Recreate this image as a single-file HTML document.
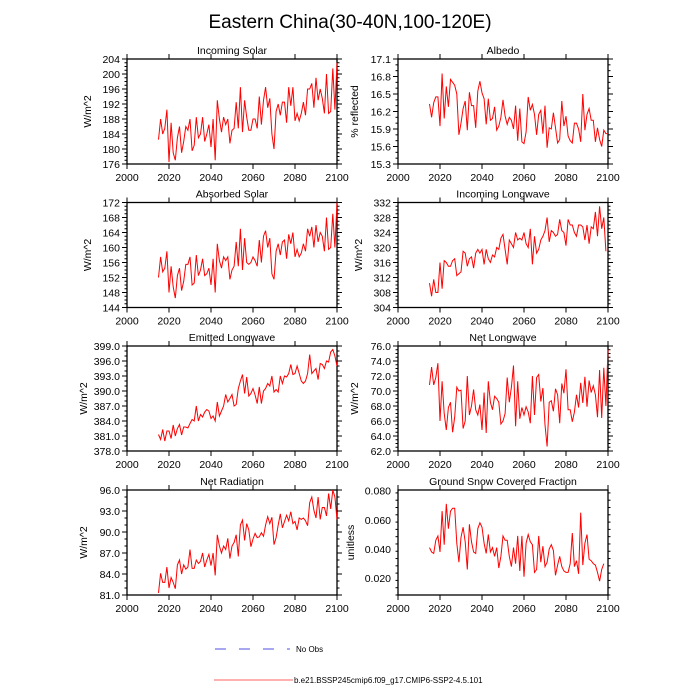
<!DOCTYPE html>
<html><head><meta charset="utf-8"><style>
body{margin:0;background:#fff;}
svg{display:block;font-family:"Liberation Sans",sans-serif;}
</style></head><body>
<svg id="c" width="700" height="700" viewBox="0 0 700 700">
<text x="350" y="28" font-size="19" text-anchor="middle">Eastern China(30-40N,100-120E)</text>
<g>
<line x1="215" y1="649" x2="290" y2="649" stroke="#5050e0" stroke-width="1" stroke-dasharray="11,13"/>
<text x="296" y="652" font-size="8">No Obs</text>
<line x1="214" y1="680" x2="293" y2="680" stroke="#ff6060" stroke-width="1"/>
<text x="294" y="683" font-size="8">b.e21.BSSP245cmip6.f09_g17.CMIP6-SSP2-4.5.101</text>
</g>
</svg>
<script>
const startYear = 2015;
const xTicks = [2000,2020,2040,2060,2080,2100];
const incomingSolar = [182.5,188,184,185.5,190.5,176.5,187,179,177,183,186,179,182,186,185,188,179.5,181,188.5,183,184,188.5,182,184,186.5,180.5,188,177,193,188,184.5,188.5,186.5,188,181.5,185,185.5,192.5,185.5,196.5,184.5,193,188.5,185,185,188,188,185.5,194,186.5,193,196.5,191,193.5,184,180,190,192,189,192.5,192.5,187,196.5,191.5,196.5,187.5,189.5,187.5,189.5,192.5,189,196,196,197.5,191,199,193,196,193.5,189.5,200,189.5,190,201.5,190.5,203];
const albedo = [16.33,16.1,16.35,16.45,16.45,15.95,16.85,16.08,16.63,16.28,16.75,16.7,16.65,16.5,15.8,16.0,16.25,16.38,15.88,16.53,16.3,16.3,15.92,16.55,16.72,16.52,16.42,15.98,16.42,16.05,16.08,16.28,15.88,15.95,16.1,16.4,16.12,15.98,16.1,16.05,15.9,16.3,15.7,16.25,15.68,15.65,15.85,16.45,16.22,16.32,16.15,15.8,16.15,16.22,15.82,16.3,15.58,15.92,15.9,16.18,15.92,15.66,15.72,16.38,15.95,16.12,15.78,15.7,15.66,16.0,16.0,15.9,15.68,16.5,15.88,16.15,16.25,16.05,16.05,15.68,15.92,15.72,15.6,15.88,15.82,15.82];
const absorbedSolar = [152,157.5,153.5,154.5,159,148,155,149.5,146.5,152.5,154.5,148.5,151,155.5,155.5,157.5,150,150.5,158,152.5,154,157,152.5,153,154.5,150,157,148,161,156.5,154.5,157.5,156.5,157.5,151.5,154,155,161.5,155,165,154,162.5,156,155.5,156,157.5,156.5,155,162,156,163,164.5,160,162.5,153,151.5,159,161,158,161.5,162,157,163.5,161,164,157.5,159.5,157.5,158.5,161,159,165,163,165.5,160,166,161.5,164,163,159,168,159.5,160,169,160,172];
const incomingLongwave = [310.5,307,311.5,308,308,316,309,316.5,316,315,315,316.5,317,312.5,313,313.5,319,318.5,315,317,317.5,314.5,318.5,319.5,318.5,319.5,315.5,319.5,317,316,318,317.5,320,319.5,322.5,323.5,319.5,315.5,322,321,320,324,322,322.5,322,324,321,320,325,315.5,323,318.5,319.5,322,323,324.5,328,321.5,324.5,324,323,323.5,327.5,324.5,324,320.5,327.5,326,326,324,323,326,326,325.5,322,326,321,325.5,325,329.5,323,331,325,328,319];
const emittedLongwave = [381.3,380.3,382.3,380,382,382,380.5,383.2,381,382.5,383.3,381.2,382.8,382.8,382.6,383.5,384.3,384,387,384,385.3,384.8,385.8,386.3,386,384.5,385,384,387.8,385,386,387,389.3,387.8,388.5,389.3,387,387.3,390.5,392,393.3,389.5,392.8,389,389.5,390.5,389.2,387.5,390.8,387.5,390,390.5,391.5,391,393,389.8,390.3,389.8,393,391.5,393,392.8,393.5,395.3,393.3,393.5,395,393.5,392,391.5,392,393.5,397.3,393.5,394,394.5,392.3,395.5,395.3,394.5,396,395.8,397.8,398.3,397,395];
const netLongwave = [70.8,73.2,70.8,71.8,73.7,66,71.3,67,64.8,67.8,68.5,64.5,66.5,70.5,70,70.1,65,66,72,66.8,68,70.2,67.5,66.8,68.2,64.8,69.8,64.4,71.3,68.5,67.5,69.3,69,68.5,65.6,66,67,71.8,68.5,70.5,73.4,65.3,71.3,66.3,67.8,66.8,67.9,67.2,65.7,72,66.8,71.8,72.2,68.6,70.4,65.5,62.6,68.5,68.7,67.3,70.3,69.5,65.7,71,69.7,72.9,67.5,67.5,65.9,67.2,69.5,67.8,71.1,68.4,71.9,67.9,71.4,69.8,70.7,69.5,66.5,72.8,66.4,73.1,68,75.5];
const netRadiation = [81.3,84.1,82.8,82.8,85,82,83.5,82.8,81.9,85.3,86,84,85.3,84.7,85,87.5,84.8,84.8,86,85.5,85.8,87,85,86,86.8,85.2,87,83.8,89.6,88,87,88,87.5,89.1,86.2,88,88.5,89.6,86.5,91,91.7,88.8,91.2,90.3,87.9,89,89.8,89.2,89.3,89.9,89.4,91,92.2,91.2,92.1,88.2,89.2,91,92.6,90.6,91.5,92.4,91.6,92.9,91.2,91.5,90.3,92,91.8,92,91.6,90.9,94.2,95,93.1,92,95,91.8,93.5,93.5,92.3,95.5,93.3,96,95,91.8];
const snowFraction = [0.041,0.038,0.037,0.046,0.049,0.038,0.066,0.043,0.071,0.054,0.066,0.068,0.068,0.044,0.031,0.048,0.055,0.045,0.026,0.057,0.045,0.038,0.037,0.054,0.058,0.055,0.044,0.037,0.05,0.038,0.041,0.035,0.041,0.027,0.035,0.049,0.046,0.046,0.035,0.028,0.041,0.03,0.049,0.025,0.049,0.021,0.044,0.05,0.045,0.043,0.024,0.026,0.049,0.031,0.042,0.028,0.031,0.04,0.043,0.039,0.022,0.029,0.035,0.028,0.025,0.024,0.024,0.03,0.051,0.028,0.032,0.023,0.065,0.029,0.044,0.05,0.033,0.032,0.03,0.029,0.024,0.018,0.026,0.03];
const yTicksSolarIn = [176,180,184,188,192,196,200,204];
const yTicksAlbedo = [15.3,15.6,15.9,16.2,16.5,16.8,17.1];
const yTicksSolarAbs = [144,148,152,156,160,164,168,172];
const yTicksLwIn = [304,308,312,316,320,324,328,332];
const yTicksLwEm = [378,381,384,387,390,393,396,399];
const yTicksLwNet = [62,64,66,68,70,72,74,76];
const yTicksNetRad = [81,84,87,90,93,96];
const yTicksSnow = [0.02,0.04,0.06,0.08];

const NS='http://www.w3.org/2000/svg';
const svg=document.getElementById('c');
function mk(tag,attrs,parent){const e=document.createElementNS(NS,tag);for(const k in attrs)e.setAttribute(k,attrs[k]);(parent||svg).appendChild(e);return e;}

function panel(opt){
  const L=opt.x0,R=opt.x0+210,T=opt.y0,B=opt.y0+105;
  const g=mk('g',{});
  
  
  const ymin=opt.ymin,ymax=opt.ymax;
  const xs=y=>L+(y-2000)/100*(R-L);
  const ys=v=>B-(v-ymin)/(ymax-ymin)*(B-T);
  xTicks.forEach(yr=>{
    const x=xs(yr);
    const t1=mk('line',{x1:x,x2:x,y1:B,y2:B+5,stroke:'#000','stroke-width':1},g);
    
    const t2=mk('line',{x1:x,x2:x,y1:T,y2:T-5,stroke:'#000','stroke-width':1},g);
    
    const t=mk('text',{x:x,y:B+17,'font-size':10.5,'text-anchor':'middle'},g);
    
    t.textContent=yr;
  });
  const step=opt.minor;
  for(let v=ymin;v<=ymax+1e-9;v+=step){
    const y=ys(v);
    const major=opt.labels.some(t=>Math.abs(t-v)<step/10);
    const len=major?5:2.5;
    const a=mk('line',{x1:L,x2:L-len,y1:y,y2:y,stroke:'#000','stroke-width':1},g);
    
    const b=mk('line',{x1:R,x2:R+len,y1:y,y2:y,stroke:'#000','stroke-width':1},g);
    
  }
  opt.labels.forEach(v=>{
    const t=mk('text',{x:L-7,y:ys(v)+4,'font-size':10.5,'text-anchor':'end'},g);
    
    t.textContent=v.toFixed(opt.dec);
  });
  const fr=mk('rect',{x:L,y:T,width:R-L,height:B-T,fill:'none',stroke:'#000','stroke-width':1.3},g);
  
  const tt=mk('text',{x:(L+R)/2,y:T-5,'font-size':10.5,'text-anchor':'middle'},g);
  
  tt.textContent=opt.title;
  const yl=mk('text',{x:0,y:0,'font-size':10.5,'text-anchor':'middle',transform:`translate(${L-opt.labOff},${(T+B)/2}) rotate(-90)`},g);
  
  yl.textContent=opt.ylabel;
  const pts=opt.data.map((v,i)=>xs(startYear+i).toFixed(2)+','+ys(v).toFixed(2)).join(' ');
  const pl=mk('polyline',{points:pts,fill:'none',stroke:'#ff0000','stroke-width':1},g);
  
}
const LX=127,RX=398;
panel({name:'incoming-solar',title:'Incoming Solar',x0:LX,y0:59,ymin:176,ymax:204,labels:yTicksSolarIn,minor:1,dec:0,data:incomingSolar,ylabel:'W/m^2',labOff:36});
panel({name:'albedo',title:'Albedo',x0:RX,y0:59,ymin:15.3,ymax:17.1,labels:yTicksAlbedo,minor:0.1,dec:1,data:albedo,ylabel:'% reflected',labOff:40});
panel({name:'absorbed-solar',title:'Absorbed Solar',x0:LX,y0:202.5,ymin:144,ymax:172,labels:yTicksSolarAbs,minor:1,dec:0,data:absorbedSolar,ylabel:'W/m^2',labOff:36});
panel({name:'incoming-longwave',title:'Incoming Longwave',x0:RX,y0:202.5,ymin:304,ymax:332,labels:yTicksLwIn,minor:1,dec:0,data:incomingLongwave,ylabel:'W/m^2',labOff:36});
panel({name:'emitted-longwave',title:'Emitted Longwave',x0:LX,y0:346,ymin:378,ymax:399,labels:yTicksLwEm,minor:1,dec:1,data:emittedLongwave,ylabel:'W/m^2',labOff:40});
panel({name:'net-longwave',title:'Net Longwave',x0:RX,y0:346,ymin:62,ymax:76,labels:yTicksLwNet,minor:0.5,dec:1,data:netLongwave,ylabel:'W/m^2',labOff:40});
panel({name:'net-radiation',title:'Net Radiation',x0:LX,y0:490,ymin:81,ymax:96,labels:yTicksNetRad,minor:1,dec:1,data:netRadiation,ylabel:'W/m^2',labOff:40});
panel({name:'snow-fraction',title:'Ground Snow Covered Fraction',x0:RX,y0:490,ymin:0.0085,ymax:0.0805,labels:yTicksSnow,minor:0.005,dec:3,data:snowFraction,ylabel:'unitless',labOff:44});
</script>
</body></html>
